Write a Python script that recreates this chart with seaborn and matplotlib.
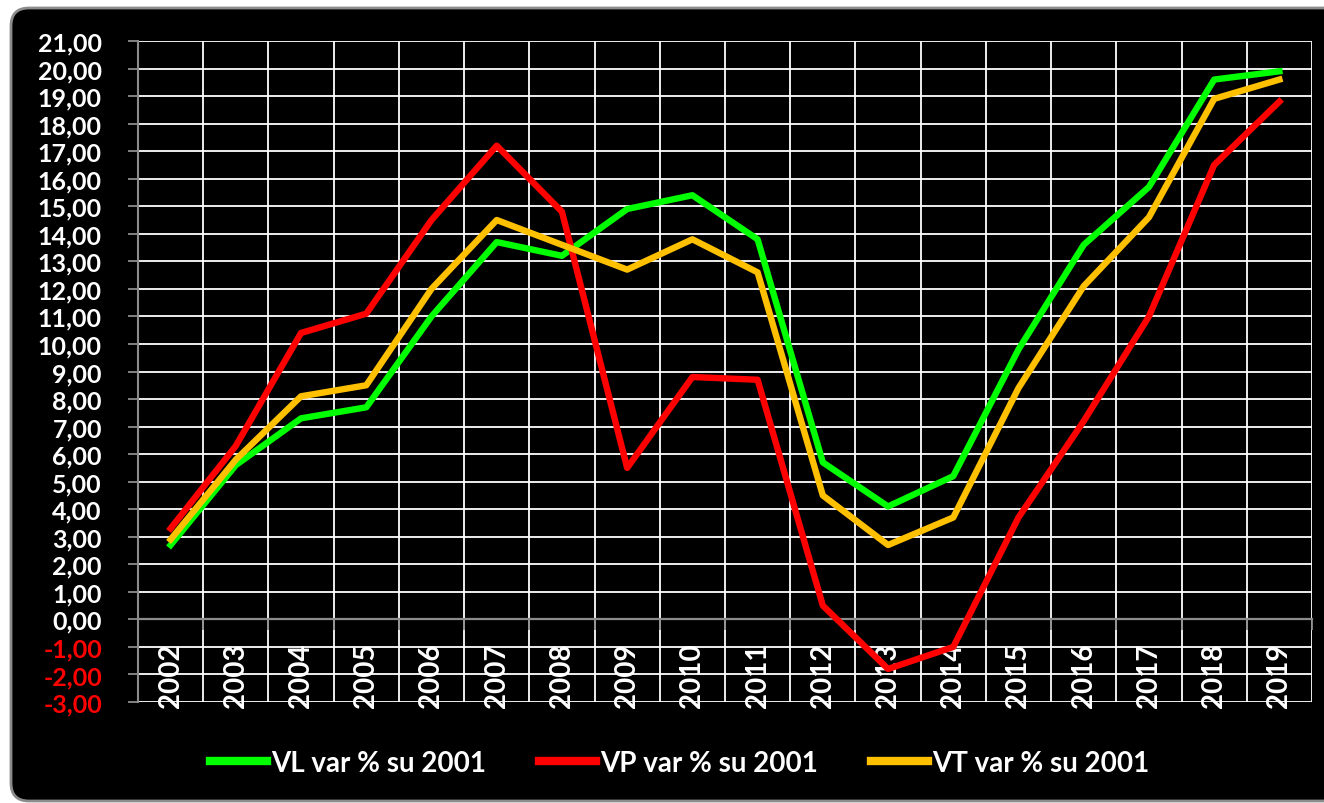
import matplotlib
matplotlib.use("Agg")
import matplotlib.pyplot as plt
import matplotlib.transforms as mtransforms
from matplotlib.patches import FancyBboxPatch
from matplotlib.ticker import FixedLocator, FuncFormatter
import numpy as np
import pandas as pd
import seaborn as sns

years = [2002, 2003, 2004, 2005, 2006, 2007, 2008, 2009, 2010,
         2011, 2012, 2013, 2014, 2015, 2016, 2017, 2018, 2019]
vl = [2.7, 5.6, 7.3, 7.7, 11.0, 13.7, 13.2, 14.9, 15.4,
      13.8, 5.7, 4.1, 5.2, 9.8, 13.6, 15.7, 19.6, 19.9]
vp = [3.3, 6.3, 10.4, 11.1, 14.5, 17.2, 14.8, 5.5, 8.8,
      8.7, 0.5, -1.8, -1.0, 3.7, 7.2, 11.0, 16.5, 18.8]
vt = [2.9, 5.8, 8.1, 8.5, 12.0, 14.5, 13.6, 12.7, 13.8,
      12.6, 4.5, 2.7, 3.7, 8.4, 12.1, 14.6, 18.9, 19.6]
series_names = ["VL var % su 2001", "VP var % su 2001", "VT var % su 2001"]
y_ticks = list(range(-3, 22))

colors = ["#00FF00", "#FF0000", "#FFC000"]

df = pd.DataFrame({
    "anno": years * 3,
    "valore": vl + vp + vt,
    "serie": [series_names[0]] * len(years) + [series_names[1]] * len(years) + [series_names[2]] * len(years),
})

plt.rcParams["font.family"] = ["Lato", "DejaVu Sans"]
plt.rcParams["font.weight"] = "bold"

W, H = 1324, 804
fig = plt.figure(figsize=(W / 100, H / 100), dpi=100, facecolor="white")

# black rounded chart area
box = FancyBboxPatch((11, 2), 1330, H - 11, boxstyle="round,pad=0,rounding_size=18",
                     facecolor="black", edgecolor="#8c8c8c", linewidth=2,
                     transform=mtransforms.IdentityTransform(), zorder=-10)
fig.patches.append(box)

ax = fig.add_axes([138 / W, 1 - 703 / H, (1312 - 138) / W, (703 - 42) / H])
ax.set_zorder(5)
ax.set_facecolor("black")

sns.lineplot(data=df, x="anno", y="valore", hue="serie", palette=colors,
             hue_order=series_names, linewidth=4.6, sort=False, ax=ax, zorder=5)

ax.set_xlim(years[0] - 0.5, years[-1] + 0.5)
ax.set_ylim(y_ticks[0], y_ticks[-1])
ax.set_xlabel("")
ax.set_ylabel("")

# grid
ax.yaxis.set_major_locator(FixedLocator(y_ticks))
ax.xaxis.set_major_locator(FixedLocator(years))
ax.xaxis.set_minor_locator(FixedLocator([y - 0.5 for y in years] + [years[-1] + 0.5]))
ax.grid(False)
ax.grid(axis="y", which="major", color="white", linewidth=1.3, zorder=1)
ax.grid(axis="x", which="minor", color="white", linewidth=1.3, zorder=1)
ax.set_axisbelow(True)

# category axis crosses at 0
ax.spines["bottom"].set_position(("data", 0))
ax.spines["bottom"].set_color("#8c8c8c")
ax.spines["bottom"].set_linewidth(1.6)
for s in ["top", "right"]:
    ax.spines[s].set_visible(False)
ax.spines["left"].set_color("#8c8c8c")
ax.spines["left"].set_linewidth(1.5)

# y tick labels
ax.yaxis.set_major_formatter(FuncFormatter(lambda v, p: f"{v:.2f}".replace(".", ",")))
ax.tick_params(axis="y", which="major", length=7, color="#8c8c8c", width=1.3,
               pad=19, labelsize=18, labelcolor="white")
for lbl, v in zip(ax.get_yticklabels(), y_ticks):
    lbl.set_fontweight("bold")
    if v < 0:
        lbl.set_color("#FF0000")

# x tick labels hanging below the 0 axis
ax.set_xticks(years)
ax.set_xticklabels([str(y) for y in years], rotation=90)
ax.tick_params(axis="x", which="major", length=0, pad=16.5, labelsize=20, labelcolor="white")
ax.tick_params(axis="x", which="minor", length=8, width=1.3, color="#8c8c8c", direction="out")
for lbl in ax.get_xticklabels():
    lbl.set_fontweight("bold")

# legend
handles, labels = ax.get_legend_handles_labels()
ax.get_legend().remove()
leg = fig.legend(handles, labels, loc="center", bbox_to_anchor=(680 / W, 1 - 764 / H),
                 ncol=3, frameon=False, fontsize=20, handlelength=2.05,
                 columnspacing=1.9, handletextpad=0.15)
for t in leg.get_texts():
    t.set_color("white")
    t.set_fontweight("bold")
for h in leg.legend_handles:
    h.set_linewidth(6)

fig.savefig("out.png", dpi=100, facecolor="white")
